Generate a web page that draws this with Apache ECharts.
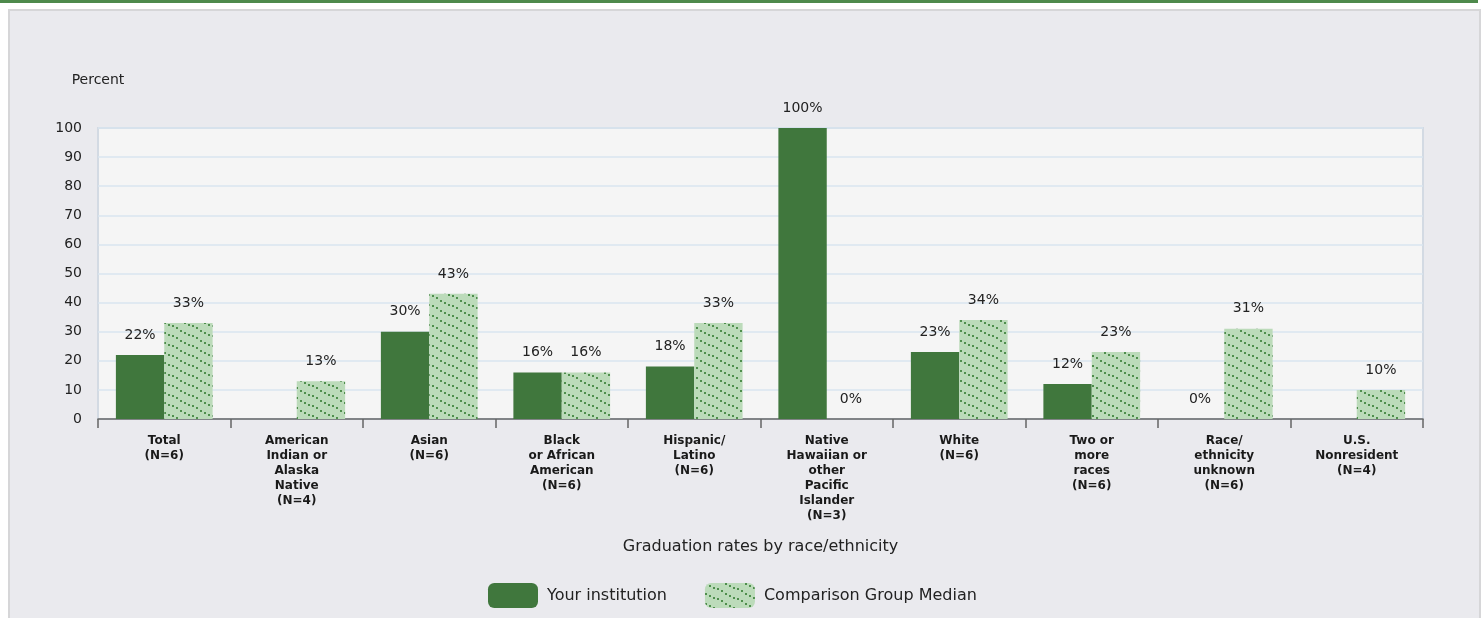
<!DOCTYPE html>
<html>
<head>
<meta charset="utf-8">
<script src="https://cdn.jsdelivr.net/npm/echarts@6/dist/echarts.min.js"></script>
<style>
  html, body { margin: 0; padding: 0; background: #ffffff; width: 1484px; height: 618px; overflow: hidden; }
  #topbar { position: absolute; left: 0; top: 0; width: 1478px; height: 3px; background: #4e8a4c; }
  #panel { position: absolute; left: 8px; top: 9px; width: 1469px; height: 640px; background: #eaeaee; border: 2px solid #d6d6d8; }
  #chart { position: absolute; left: 0; top: 0; width: 1484px; height: 618px; }
</style>
</head>
<body>
<div id="topbar"></div>
<div id="panel"></div>
<div id="chart"></div>
<script>
const categories = [
  "Total\n(N=6)",
  "American\nIndian or\nAlaska\nNative\n(N=4)",
  "Asian\n(N=6)",
  "Black\nor African\nAmerican\n(N=6)",
  "Hispanic/\nLatino\n(N=6)",
  "Native\nHawaiian or\nother\nPacific\nIslander\n(N=3)",
  "White\n(N=6)",
  "Two or\nmore\nraces\n(N=6)",
  "Race/\nethnicity\nunknown\n(N=6)",
  "U.S.\nNonresident\n(N=4)"
];
const yourInstitution = [22, null, 30, 16, 18, 100, 23, 12, 0, null];
const comparisonMedian = [33, 13, 43, 16, 33, 0, 34, 23, 31, 10];
const yTicks = [0, 10, 20, 30, 40, 50, 60, 70, 80, 90, 100];

function makePattern() {
  const c = document.createElement('canvas');
  c.width = 20; c.height = 10;
  const ctx = c.getContext('2d');
  ctx.fillStyle = '#bcdbba';
  ctx.fillRect(0, 0, 20, 10);
  ctx.fillStyle = '#4f8f4d';
  const pts = [[0,0],[4,2],[8,4],[12,5],[16,7]];
  pts.forEach(p => { ctx.fillRect(p[0], p[1], 2, 2); });
  return c;
}
const pattern = { image: makePattern(), repeat: 'repeat' };

const chart = echarts.init(document.getElementById('chart'), null, { renderer: 'canvas' });
const font = 'DejaVu Sans';
const labelStyle = {
  show: true,
  position: 'top',
  distance: 13,
  fontFamily: font,
  fontSize: 14,
  color: '#222',
  formatter: p => (p.value === null || p.value === undefined) ? '' : p.value + '%'
};
chart.setOption({
  backgroundColor: 'transparent',
  animation: false,
  textStyle: { fontFamily: font },
  grid: {
    left: 98, top: 128, width: 1325, height: 291,
    show: true, backgroundColor: '#f5f5f5', borderColor: '#d3dae3', borderWidth: 2
  },
  legend: {
    left: 483, top: 578,
    itemWidth: 50, itemHeight: 25, itemGap: 38,
    icon: 'roundRect',
    textStyle: { fontFamily: font, fontSize: 16, color: '#222', padding: [0, 0, 0, 4] },
    data: ['Your institution', 'Comparison Group Median']
  },
  xAxis: {
    type: 'category',
    data: categories,
    name: 'Graduation rates by race/ethnicity',
    nameLocation: 'middle',
    nameGap: 120,
    nameTextStyle: { fontFamily: font, fontSize: 16, color: '#222' },
    axisLine: { show: true, lineStyle: { color: '#666', width: 1.5 } },
    axisTick: { show: true, length: 9, interval: 0, lineStyle: { color: '#666', width: 1.5 } },
    axisLabel: { interval: 0, fontFamily: font, fontSize: 12, fontWeight: 'bold', lineHeight: 15, color: '#1a1a1a', margin: 14, align: 'center' },
    splitLine: { show: false }
  },
  yAxis: {
    type: 'value',
    min: 0, max: 100, interval: 10,
    name: 'Percent',
    nameLocation: 'end',
    nameGap: 41,
    nameTextStyle: { fontFamily: font, fontSize: 14, color: '#222', align: 'center' },
    axisLine: { show: false },
    axisTick: { show: false },
    axisLabel: { fontFamily: font, fontSize: 14, color: '#222', margin: 16,
      formatter: v => yTicks.includes(v) ? String(v) : '' },
    splitLine: { show: true, lineStyle: { color: '#d9e4ef', width: 1.5 } }
  },
  series: [
    {
      name: 'Your institution',
      type: 'bar',
      data: yourInstitution,
      barGap: '0%',
      barCategoryGap: '27%',
      itemStyle: { color: '#40773d' },
      label: labelStyle
    },
    {
      name: 'Comparison Group Median',
      type: 'bar',
      data: comparisonMedian,
      barGap: '0%',
      barCategoryGap: '27%',
      itemStyle: { color: pattern },
      label: labelStyle
    }
  ]
});
</script>
</body>
</html>
